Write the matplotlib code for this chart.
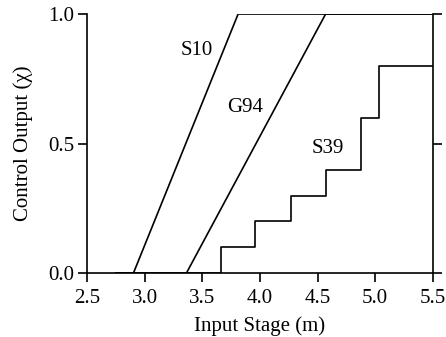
import matplotlib
matplotlib.use("Agg")
import matplotlib.pyplot as plt

plt.rcParams['font.family'] = ['Liberation Serif', 'DejaVu Serif']

s10_x = [2.75, 2.90, 3.81, 5.50]
s10_y = [0.0, 0.0, 1.0, 1.0]
g94_x = [2.75, 3.36, 4.57, 5.50]
g94_y = [0.0, 0.0, 1.0, 1.0]
s39_x = [2.75, 3.66, 3.96, 4.27, 4.57, 4.88, 5.03, 5.50]
s39_y = [0.0, 0.1, 0.2, 0.3, 0.4, 0.6, 0.8, 0.8]

labels = ["S10", "G94", "S39"]
label_x = [3.45, 3.87, 4.59]
label_y = [0.86, 0.64, 0.48]

xticks = [2.5, 3.0, 3.5, 4.0, 4.5, 5.0, 5.5]
yticks = [0.0, 0.5, 1.0]

fs = 15
fig = plt.figure(figsize=(4.46, 3.37), dpi=100)
ax = fig.add_axes([87.3/446, 1 - 273.3/337, (432.7-87.3)/446, (273.3-14)/337])

lw = 1.2
ax.plot(s10_x, s10_y, color='black', lw=lw)
ax.plot(g94_x, g94_y, color='black', lw=lw)
ax.step(s39_x, s39_y, where='post', color='black', lw=lw)

for t, x, y in zip(labels, label_x, label_y):
    ax.text(x, y, t, fontsize=fs, ha='center', va='center')

ax.set_xlim(2.5, 5.5)
ax.set_ylim(0, 1.0)
ax.set_xticks(xticks)
ax.set_xticklabels([f"{v:.1f}" for v in xticks])
ax.set_yticks(yticks)
ax.set_yticklabels([f"{v:.1f}" for v in yticks])
ax.spines['top'].set_visible(False)
for s in ['left', 'right', 'bottom']:
    ax.spines[s].set_linewidth(1.2)
ax.tick_params(direction='out', length=6.5, width=1.2, labelsize=fs, right=True)
ax.tick_params(axis='x', pad=4.5)
ax.tick_params(axis='y', pad=3)
ax.set_xlabel("Input Stage (m)", fontsize=fs, labelpad=6)
ax.set_ylabel("Control Output (\u03c7)", fontsize=fs, labelpad=11)

fig.savefig("out.png", dpi=100)
